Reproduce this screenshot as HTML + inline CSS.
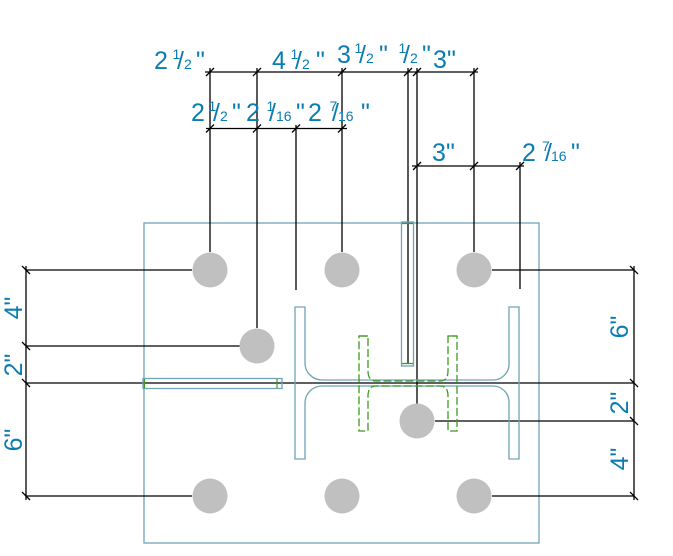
<!DOCTYPE html>
<html>
<head>
<meta charset="utf-8">
<style>
  html,body{margin:0;padding:0;background:#fff;}
  svg{display:block;}
  text{font-family:"Liberation Sans", Arial, sans-serif; fill:#0a7cb2;}
  .b{font-size:25px;}
  .s{font-size:14px;}
</style>
</head>
<body>
<svg width="673" height="556" viewBox="0 0 673 556" xmlns="http://www.w3.org/2000/svg">
  <rect x="0" y="0" width="673" height="556" fill="#fff"/>

  <!-- base plate -->
  <rect x="144" y="223" width="395" height="320" fill="none" stroke="#6fa3b8" stroke-width="1.3"/>

  <!-- black dimension & extension lines -->
  <g stroke="#000" stroke-width="1.3" fill="none">
    <path d="M205 72 H478"/>
    <path d="M206 128.5 H347"/>
    <path d="M412 166 H524"/>
    <path d="M206 76 L214 68 M253 76 L261 68 M338 76 L346 68 M404 76 L412 68 M413 76 L421 68 M470 76 L478 68"/>
    <path d="M206 132.5 L214 124.5 M253 132.5 L261 124.5 M292 132.5 L300 124.5 M338 132.5 L346 124.5"/>
    <path d="M413 170 L421 162 M470 170 L478 162 M516 170 L524 162"/>
    <path d="M210 68 V252 M257 68 V328 M296 125 V290 M342 68 V252 M408 68 V364 M417 68 V404 M474 68 V252 M520 162 V289"/>
    <path d="M26 266 V500"/>
    <path d="M22 266 L30 274 M22 342 L30 350 M22 379 L30 387 M22 492 L30 500"/>
    <path d="M634 266 V500"/>
    <path d="M630 266 L638 274 M630 379 L638 387 M630 417 L638 425 M630 492 L638 500"/>
    <path d="M26 270 H192 M492 270 H634 M26 346 H240 M26 383 H634 M435 421 H634 M26 496 H192 M492 496 H634"/>
  </g>

  <!-- column wide flange (blue) -->
  <path d="M295 307 H305 V363 A17 17 0 0 0 322 380 H493 A16 16 0 0 0 509 364 V307 H519 V459 H509 V402 A16 16 0 0 0 493 386 H322 A17 17 0 0 0 305 403 V459 H295 Z"
        fill="none" stroke="#6fa3b8" stroke-width="1.3"/>

  <!-- green dashed member -->
  <path d="M359 336 H368 V371 Q368 381 376 381 H440 Q448 381 448 371 V336 H457 V431 H448 V396 Q448 386 440 386 H376 Q368 386 368 396 V431 H359 Z"
        fill="none" stroke="#3c9b1e" stroke-width="1.3" stroke-dasharray="8 3"/>
  <path d="M359 336 H368 M448 336 H457" stroke="#3c9b1e" stroke-width="1.3"/>

  <!-- left horizontal plate -->
  <rect x="143" y="378.5" width="139" height="10" fill="none" stroke="#6fa3b8" stroke-width="1.3"/>
  <path d="M144.5 379 V388 M277 379 V388" stroke="#3c9b1e" stroke-width="1.2"/>

  <!-- top vertical plate -->
  <rect x="401.5" y="222" width="12" height="144" fill="none" stroke="#6fa3b8" stroke-width="1.3"/>
  <path d="M402 223.5 H413 M402 363.5 H413" stroke="#3c9b1e" stroke-width="1.2"/>

  <!-- anchor bolts -->
  <g fill="#c0c0c0">
    <circle cx="210" cy="270" r="17.5"/>
    <circle cx="342" cy="270" r="17.5"/>
    <circle cx="474" cy="270" r="17.5"/>
    <circle cx="257" cy="346" r="17.5"/>
    <circle cx="417" cy="421" r="17.5"/>
    <circle cx="210" cy="496" r="17.5"/>
    <circle cx="342" cy="496" r="17.5"/>
    <circle cx="474" cy="496" r="17.5"/>
  </g>

  <!-- Row 1 labels -->
  <text class="b" x="154" y="69">2</text>
  <text class="s" x="172.5" y="59">1</text><text class="b" x="177" y="69">/</text><text class="s" x="184" y="69">2</text>
  <text class="b" x="196" y="69">"</text>

  <text class="b" x="272" y="69">4</text>
  <text class="s" x="290.5" y="59">1</text><text class="b" x="295" y="69">/</text><text class="s" x="302" y="69">2</text>
  <text class="b" x="316" y="69">"</text>

  <text class="b" x="337" y="63">3</text>
  <text class="s" x="354.5" y="53">1</text><text class="b" x="359" y="63">/</text><text class="s" x="366" y="63">2</text>
  <text class="b" x="379" y="63">"</text>

  <text class="s" x="398.5" y="53">1</text><text class="b" x="403" y="63">/</text><text class="s" x="410" y="63">2</text>
  <text class="b" x="422" y="63">"</text>

  <text class="b" x="433" y="68">3</text>
  <text class="b" x="447" y="68">"</text>

  <!-- Row 2 labels -->
  <text class="b" x="191" y="121">2</text>
  <text class="s" x="208.5" y="111">1</text><text class="b" x="213" y="121">/</text><text class="s" x="220" y="121">2</text>
  <text class="b" x="232" y="121">"</text>

  <text class="b" x="246" y="121">2</text>
  <text class="s" x="266.5" y="111">1</text><text class="b" x="269" y="121">/</text><text class="s" x="276" y="121">16</text>
  <text class="b" x="296" y="121">"</text>

  <text class="b" x="308" y="121">2</text>
  <text class="s" x="329.5" y="111">7</text><text class="b" x="332" y="121">/</text><text class="s" x="338" y="121">16</text>
  <text class="b" x="361" y="121">"</text>

  <!-- Row 3 labels -->
  <text class="b" x="432" y="161">3</text>
  <text class="b" x="446" y="161">"</text>

  <text class="b" x="522" y="161">2</text>
  <text class="s" x="542" y="151">7</text><text class="b" x="545" y="161">/</text><text class="s" x="551" y="161">16</text>
  <text class="b" x="571" y="161">"</text>

  <!-- Left vertical labels -->
  <text class="b" text-anchor="middle" transform="translate(22,308) rotate(-90)">4"</text>
  <text class="b" text-anchor="middle" transform="translate(22,365) rotate(-90)">2"</text>
  <text class="b" text-anchor="middle" transform="translate(22,440) rotate(-90)">6"</text>

  <!-- Right vertical labels -->
  <text class="b" text-anchor="middle" transform="translate(628,327) rotate(-90)">6"</text>
  <text class="b" text-anchor="middle" transform="translate(628,403) rotate(-90)">2"</text>
  <text class="b" text-anchor="middle" transform="translate(628,459) rotate(-90)">4"</text>
</svg>
</body>
</html>
